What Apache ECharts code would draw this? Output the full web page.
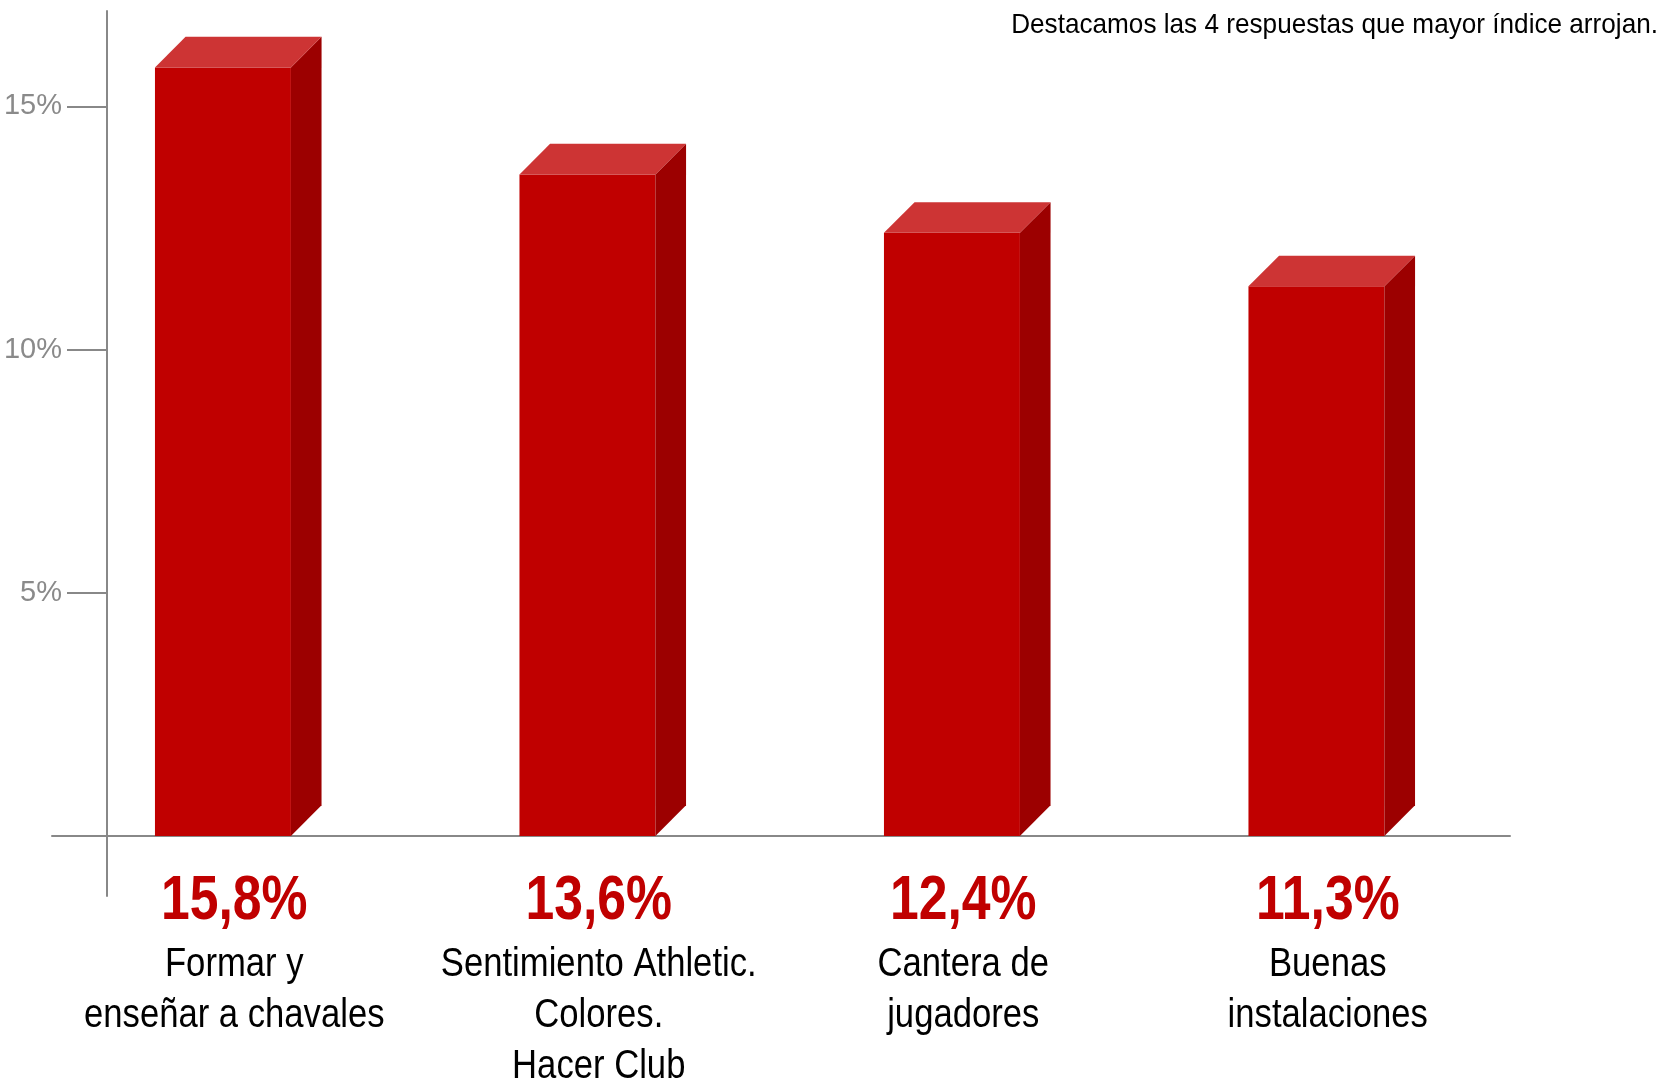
<!DOCTYPE html>
<html>
<head>
<meta charset="utf-8">
<script src="https://cdn.jsdelivr.net/npm/echarts@6/dist/echarts.min.js"></script>
<style>
html,body{margin:0;padding:0;background:#fff;}
#chart{width:1663px;height:1081px;}
</style>
</head>
<body>
<div id="chart"></div>
<script>
const categories = ['Formar y\nenseñar a chavales', 'Sentimiento Athletic.\nColores.\nHacer Club', 'Cantera de\njugadores', 'Buenas\ninstalaciones'];
const values = [15.8, 13.6, 12.4, 11.3];
const yTicks = [5, 10, 15];
const note = 'Destacamos las 4 respuestas que mayor índice arrojan.';

const FONT = "'Liberation Sans', Arial, sans-serif";
const fmtVal = v => v.toFixed(1).replace('.', ',') + '%';

const chart = echarts.init(document.getElementById('chart'));
chart.setOption({
  animation: false,
  backgroundColor: '#ffffff',
  graphic: [{
    type: 'text',
    x: 1658,
    y: 25.5,
    scaleX: 0.934,
    style: { text: note, align: 'right', verticalAlign: 'middle', fontFamily: FONT, fontSize: 28, fill: '#000' }
  }],
  grid: { left: 52, right: 153, top: 11, bottom: 185, containLabel: false, outerBoundsMode: 'none' },
  xAxis: {
    type: 'category',
    data: categories,
    axisLine: { show: true, onZero: true, lineStyle: { color: '#888', width: 2 } },
    axisTick: { show: false },
    axisLabel: { show: false }
  },
  yAxis: {
    type: 'value',
    min: -1.234,
    max: 16.96,
    offset: -55,
    splitLine: { show: false },
    axisLine: { show: true, lineStyle: { color: '#888', width: 2 } },
    axisTick: { show: true, length: 40, customValues: yTicks, lineStyle: { color: '#888', width: 2 } },
    axisLabel: {
      customValues: yTicks,
      margin: 45,
      formatter: '{value}%',
      fontFamily: FONT,
      fontSize: 29,
      color: '#8a8a8a'
    }
  },
  series: [{
    type: 'custom',
    data: values.map((v, i) => [i, v]),
    encode: { x: 0, y: 1 },
    renderItem: function (params, api) {
      const x = api.value(0), v = api.value(1);
      const base = api.coord([x, 0]);
      const top = api.coord([x, v]);
      const band = api.size([1, 0])[0];
      const fw = band * 0.373, d = band * 0.084;
      const left = base[0] - (fw + d) / 2 + 4;
      const right = left + fw;
      return {
        type: 'group',
        children: [
          { type: 'rect', shape: { x: left, y: top[1], width: fw, height: base[1] - top[1] }, style: { fill: '#c00000' } },
          { type: 'polygon', shape: { points: [[right, top[1]], [right + d, top[1] - d], [right + d, base[1] - d], [right, base[1]]] }, style: { fill: '#9c0000' } },
          { type: 'polygon', shape: { points: [[left, top[1]], [left + d, top[1] - d], [right + d, top[1] - d], [right, top[1]]] }, style: { fill: '#cd3434' } }
        ]
      };
    }
  }, {
    type: 'custom',
    clip: false,
    silent: true,
    data: values.map((v, i) => [i, v]),
    encode: { x: 0, y: 1 },
    renderItem: function (params, api) {
      const x = api.value(0), v = api.value(1);
      const base = api.coord([x, 0]);
      const cx = base[0];
      const children = [{
        type: 'text', x: cx, y: base[1] + 65.5, scaleX: 0.82,
        style: { text: fmtVal(v), align: 'center', verticalAlign: 'middle', fontFamily: FONT, fontSize: 63, fontWeight: 'bold', fill: '#c00000' }
      }];
      categories[params.dataIndex].split('\n').forEach((line, k) => {
        children.push({
          type: 'text', x: cx, y: base[1] + 129 + k * 51, scaleX: 0.845,
          style: { text: line, align: 'center', verticalAlign: 'middle', fontFamily: FONT, fontSize: 41, fill: '#000' }
        });
      });
      return { type: 'group', children };
    }
  }]
});
</script>
</body>
</html>
